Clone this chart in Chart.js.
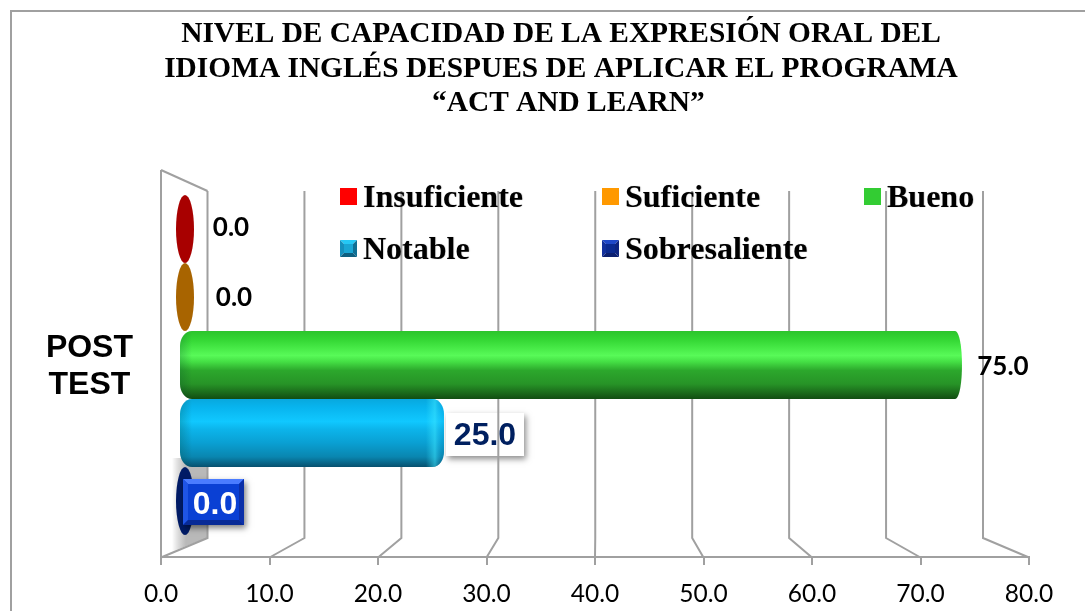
<!DOCTYPE html>
<html>
<head>
<meta charset="utf-8">
<style>html,body{margin:0;padding:0;background:#fff;overflow:hidden}canvas{display:block}</style>
<script src="https://cdn.jsdelivr.net/npm/chart.js@4"></script>
</head>
<body>
<canvas id="c" width="1085" height="611"></canvas>
<script>
const categories = [["POST", "TEST"]];
const seriesNames = ["Insuficiente", "Suficiente", "Bueno", "Notable", "Sobresaliente"];
const insuficiente = [0.0];
const suficiente = [0.0];
const bueno = [75.0];
const notable = [25.0];
const sobresaliente = [0.0];
const axisTicks = [0, 10, 20, 30, 40, 50, 60, 70, 80];
const titleLines = [
  "NIVEL DE CAPACIDAD DE LA EXPRESIÓN ORAL DEL",
  "IDIOMA INGLÉS DESPUES DE APLICAR EL PROGRAMA",
  "  “ACT AND LEARN”"
];

const GRID = '#a0a0a0';
const styles = [
  {swatch:'#ff0000', solid:'#a80000', label:{dx:46,dy:-1,font:'bold 26px Lato',color:'#000'}},
  {swatch:'#ff9900', solid:'#a86400', label:{dx:49,dy:1,font:'bold 26px Lato',color:'#000'}},
  {swatch:'#33cc33', endRx:7, endRy:34, stops:[[0,'#2cc42c'],[.12,'#33d633'],[.36,'#58fa58'],[.45,'#45e045'],[.58,'#2ca82c'],[.78,'#279327'],[1,'#124d12']],
   label:{dx:41,dy:2,font:'bold 26px Lato',color:'#000'}},
  {swatch:'bevelBlue', endRx:12, endRy:15, stops:[[0,'#08a8de'],[.12,'#08b4ee'],[.33,'#10c8ff'],[.45,'#0cb4ea'],[.65,'#0a9fd2'],[.85,'#0a86b0'],[1,'#07506e']],
   cap:true, label:{dx:41,dy:3,font:'bold 32px "Liberation Sans"',color:'#002060',box:'white'}},
  {swatch:'bevelNavy', solid:'#001b66', shadow:true, label:{dx:30,dy:4,font:'bold 32px "Liberation Sans"',color:'#fff',box:'blue'}}
];

function bevel(ctx,x,y,w,h,e,top,left,right,bottom,mid){
  const tri=(pts,c)=>{ctx.fillStyle=c;ctx.beginPath();pts.forEach((p,i)=>i?ctx.lineTo(p[0],p[1]):ctx.moveTo(p[0],p[1]));ctx.closePath();ctx.fill();};
  tri([[x,y],[x+w,y],[x+w-e,y+e],[x+e,y+e]],top);
  tri([[x,y],[x+e,y+e],[x+e,y+h-e],[x,y+h]],left);
  tri([[x+w,y],[x+w,y+h],[x+w-e,y+h-e],[x+w-e,y+e]],right);
  tri([[x,y+h],[x+e,y+h-e],[x+w-e,y+h-e],[x+w,y+h]],bottom);
  ctx.fillStyle=mid;ctx.fillRect(x+e,y+e,w-2*e,h-2*e);
}

const framePlugin = {
  id:'frame',
  afterLayout(chart){ chart.scales.y.left=0; },
  beforeDraw(chart){
    const c=chart.ctx;c.save();
    c.fillStyle='#fff';c.fillRect(0,0,chart.width,chart.height);
    c.strokeStyle='#a0a0a0';c.lineWidth=2;
    c.beginPath();c.moveTo(11,611);c.lineTo(11,11);c.lineTo(1085,11);c.stroke();
    c.restore();
  }
};

const wallPlugin = {
  id:'wall',
  beforeDatasetsDraw(chart){
    const c=chart.ctx,x=chart.scales.x,a=chart.chartArea;
    const front=a.bottom+0.5, backB=538, backT=191, frontT=170;
    const bx=p=>207.5+(p-161)*(775.5/868);
    c.save();
    const g=c.createLinearGradient(172,0,186,0);
    g.addColorStop(0,'rgba(170,170,170,0)');g.addColorStop(1,'rgba(185,185,185,1)');
    c.fillStyle=g;c.beginPath();c.moveTo(168,458);c.lineTo(207,458);c.lineTo(207,538);c.lineTo(168,553);c.closePath();c.fill();
    chart.data.datasets.forEach((d,i)=>{
      const l=styles[i].label;
      if(l.box==='white'){
        const e=chart.getDatasetMeta(i).data[0];
        c.save();c.shadowColor='rgba(0,0,0,.45)';c.shadowBlur=6;c.shadowOffsetX=2;c.shadowOffsetY=3;
        c.fillStyle='#fff';c.fillRect(e.x+2,e.y-20,78,43);c.restore();
      }
    });
    c.strokeStyle=GRID;c.lineWidth=2;
    c.beginPath();c.moveTo(x.getPixelForValue(0),frontT);c.lineTo(bx(161),backT);c.stroke();
    c.beginPath();c.moveTo(x.getPixelForValue(0),frontT);c.lineTo(x.getPixelForValue(0),front);c.stroke();
    x.ticks.forEach(t=>{
      const p=x.getPixelForValue(t.value);
      c.beginPath();c.moveTo(bx(p),backT);c.lineTo(bx(p),backB);c.lineTo(p,front);c.stroke();
    });
    c.restore();
  }
};

function barPath(c,left,right,top,bottom,rxR,ryR){
  const rxL=12, ryL=15;
  c.beginPath();
  c.moveTo(left+rxL,top);
  c.lineTo(right-rxR,top);
  c.bezierCurveTo(right-rxR*.35,top,right,top+ryR*.5,right,top+ryR);
  c.lineTo(right,bottom-ryR);
  c.bezierCurveTo(right,bottom-ryR*.5,right-rxR*.35,bottom,right-rxR,bottom);
  c.lineTo(left+rxL,bottom);
  c.bezierCurveTo(left+rxL*.4,bottom,left,bottom-ryL*.5,left,bottom-ryL);
  c.lineTo(left,top+ryL);
  c.bezierCurveTo(left,top+ryL*.5,left+rxL*.4,top,left+rxL,top);
  c.closePath();
}

const barPlugin = {
  id:'cylinders',
  beforeDatasetDraw(chart,args){
    const i=args.index, s=styles[i], e=args.meta.data[0], c=chart.ctx;
    const top=e.y-e.height/2, bottom=e.y+e.height/2;
    c.save();
    if(s.solid){
      c.fillStyle=s.solid;
      c.beginPath();c.ellipse(e.x,e.y,9,e.height/2,0,0,Math.PI*2);c.fill();
    }else{
      const left=e.base-5;
      const g=c.createLinearGradient(0,top,0,bottom);
      s.stops.forEach(p=>g.addColorStop(p[0],p[1]));
      barPath(c,left,e.x,top,bottom,s.endRx,s.endRy);
      c.fillStyle=g;c.fill();
      c.clip();
      const lg=c.createLinearGradient(left,0,left+12,0);
      lg.addColorStop(0,'rgba(0,60,40,.22)');lg.addColorStop(1,'rgba(0,60,40,0)');
      c.fillStyle=lg;c.fillRect(left,top,12,e.height);
      if(s.cap){
        const rg=c.createLinearGradient(e.x-18,0,e.x,0);
        rg.addColorStop(0,'rgba(60,230,255,0)');rg.addColorStop(.5,'rgba(60,230,255,.55)');rg.addColorStop(.8,'rgba(40,190,235,.15)');rg.addColorStop(1,'rgba(0,90,140,.08)');
        c.fillStyle=rg;c.fillRect(e.x-18,top,18,e.height);
      }
    }
    c.restore();
    return false;
  }
};

const labelPlugin = {
  id:'valueLabels',
  afterDatasetsDraw(chart){
    const c=chart.ctx;
    chart.data.datasets.forEach((d,i)=>{
      const e=chart.getDatasetMeta(i).data[0], l=styles[i].label;
      const x=e.x+l.dx, y=e.y+l.dy;
      c.save();
      if(l.box==='blue'){
        c.save();c.shadowColor='rgba(0,0,0,.5)';c.shadowBlur=6;c.shadowOffsetX=2;c.shadowOffsetY=3;
        c.fillStyle='#0a3fd0';c.fillRect(183,479,61,46);c.restore();
        bevel(c,183,479,61,46,5,'#4a7cff','#1f55e6','#0b2fa8','#082a96','#0a40d4');
      }
      c.font=l.font;c.fillStyle=l.color;c.textAlign='center';c.textBaseline='middle';
      c.fillText(d.data[0].toFixed(1),x,y);
      c.restore();
    });
  }
};

const legendPlugin = {
  id:'seriesKey',
  afterDraw(chart){
    const c=chart.ctx;
    const cols=[340,602,864], rows=[205,257];
    chart.data.datasets.forEach((d,i)=>{
      const x=cols[i%3], base=rows[Math.floor(i/3)], y=base-17;
      const sw=styles[i].swatch;
      c.save();
      if(sw==='bevelBlue') bevel(c,x,y,17,17,4,'#25c8f5','#1590bd','#0f6f94','#0d5f80','#1aa6d4');
      else if(sw==='bevelNavy') bevel(c,x,y,17,17,4,'#1f48c8','#12309c','#0d2480','#0b1f70','#0b2a90');
      else {c.fillStyle=sw;c.fillRect(x,y,17,17);}
      c.shadowColor='rgba(0,0,0,.3)';c.shadowBlur=1;c.shadowOffsetX=0.5;c.shadowOffsetY=0.5;
      c.font='bold 32px "Liberation Serif"';c.fillStyle='#000';c.textBaseline='alphabetic';
      c.fillText(d.label,x+23,base+1.5);
      c.restore();
    });
  }
};

const seriesValues=[insuficiente,suficiente,bueno,notable,sobresaliente];
new Chart(document.getElementById('c').getContext('2d'),{
  type:'bar',
  data:{
    labels:categories,
    datasets:seriesNames.map((n,i)=>({label:n,data:seriesValues[i],xAxisID:'xBars',backgroundColor:styles[i].swatch.startsWith('bevel')?'#1aa6d4':styles[i].swatch}))
  },
  options:{
    responsive:false,animation:false,indexAxis:'y',
    layout:{padding:{left:93,right:56,top:0,bottom:0}},
    datasets:{bar:{barPercentage:1,categoryPercentage:340/384}},
    plugins:{
      legend:{display:false},tooltip:{enabled:false},
      title:{display:true,text:titleLines,color:'#000',
        font:{family:'"Liberation Serif"',weight:'bold',size:29.4,lineHeight:1.17},
        padding:{top:17.5,bottom:52.3}}
    },
    scales:{
      x:{type:'linear',position:'bottom',min:axisTicks[0],max:axisTicks[axisTicks.length-1],
        afterBuildTicks(s){s.ticks=axisTicks.map(v=>({value:v}));},
        afterFit(s){s.height=54;},
        grid:{drawOnChartArea:false,drawTicks:true,tickLength:8,color:GRID,lineWidth:2},
        border:{color:GRID,width:2},
        ticks:{color:'#000',padding:14,maxRotation:0,font:{family:'Lato',size:24.5},callback:v=>Number(v).toFixed(1)}},
      xBars:{type:'linear',position:'bottom',display:false,min:-2.317,max:81.47},
      y:{type:'category',position:'left',
        afterFit(s){s.width=68;s.paddingTop=0;s.paddingBottom=0;},
        grid:{display:false},border:{display:false},
        ticks:{color:'#000',crossAlign:'center',padding:20,labelOffset:2,font:{family:'"Liberation Sans"',weight:'bold',size:32,lineHeight:1.15}}}
    }
  },
  plugins:[framePlugin,wallPlugin,barPlugin,labelPlugin,legendPlugin]
});
</script>
</body>
</html>
